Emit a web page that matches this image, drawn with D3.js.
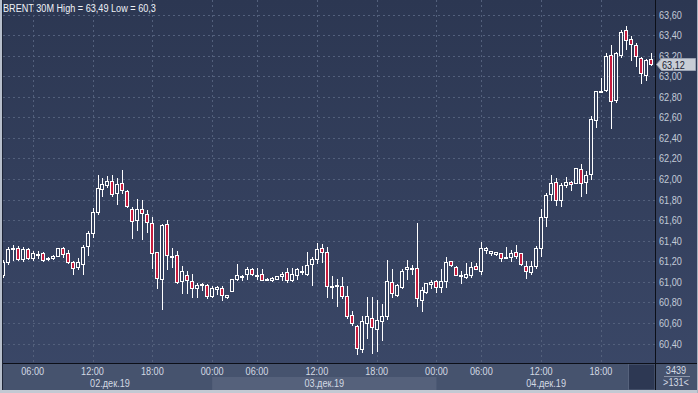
<!DOCTYPE html>
<html>
<head>
<meta charset="utf-8">
<script src="https://cdn.jsdelivr.net/npm/d3@7"></script>
<style>
  body { margin: 0; background: #3a4765; }
  svg { display: block; }
  text { font-family: "Liberation Sans", Arial, sans-serif; font-size: 11px; }
</style>
</head>
<body>
<div id="chart"></div>
<script>
/* global d3 */
const opens = [61.07, 61.19, 61.32, 61.33, 61.22, 61.32, 61.23, 61.27, 61.28, 61.22,
  61.23, 61.25, 61.33, 61.28, 61.19, 61.14, 61.17, 61.35, 61.47, 61.68,
  61.90, 61.94, 61.98, 61.86, 61.96, 61.88, 61.71, 61.60, 61.71, 61.66,
  61.57, 61.29, 61.03, 61.56, 61.24, 61.26, 61.01, 61.07, 61.01, 60.94,
  60.98, 60.97, 60.86, 60.93, 60.94, 60.85, 60.91, 61.03, 61.06, 61.08,
  61.12, 61.07, 61.08, 61.03, 61.02, 61.03, 61.06, 61.10, 61.02, 61.07,
  61.10, 61.08, 61.17, 61.22, 61.33, 61.29, 60.96, 60.96, 60.96, 60.86,
  60.68, 60.57, 60.35, 60.60, 60.65, 60.54, 60.62, 60.67, 61.00, 60.87,
  60.95, 61.12, 61.13, 61.13, 60.82, 60.90, 60.98, 61.01, 60.95, 61.01,
  61.20, 61.14, 61.07, 61.05, 61.07, 61.15, 61.11, 61.31, 61.28, 61.27,
  61.28, 61.24, 61.24, 61.29, 61.28, 61.15, 61.10, 61.15, 61.33, 61.63,
  61.85, 61.97, 61.80, 61.94, 61.97, 61.96, 62.10, 61.97, 62.05, 62.57,
  62.86, 62.87, 63.21, 62.77, 63.21, 63.45, 63.36, 63.30, 63.18, 63.01,
  63.17];
const highs = [61.21, 61.34, 61.36, 61.35, 61.34, 61.33, 61.30, 61.30, 61.29, 61.24,
  61.26, 61.33, 61.34, 61.31, 61.20, 61.23, 61.36, 61.49, 61.72, 62.04,
  62.01, 62.03, 62.04, 62.01, 62.09, 61.89, 61.73, 61.81, 61.80, 61.70,
  61.63, 61.29, 61.56, 61.60, 61.33, 61.30, 61.15, 61.11, 61.08, 60.99,
  60.99, 60.98, 60.96, 60.96, 60.96, 60.87, 61.03, 61.17, 61.07, 61.14,
  61.13, 61.13, 61.12, 61.04, 61.05, 61.06, 61.10, 61.13, 61.13, 61.13,
  61.15, 61.29, 61.24, 61.38, 61.37, 61.34, 61.06, 61.03, 61.05, 60.96,
  60.72, 60.58, 60.67, 60.85, 60.85, 60.82, 60.78, 61.21, 61.12, 60.98,
  61.12, 61.21, 61.16, 61.57, 60.95, 60.99, 61.02, 61.02, 61.12, 61.24,
  61.20, 61.15, 61.11, 61.18, 61.19, 61.18, 61.39, 61.34, 61.30, 61.29,
  61.28, 61.34, 61.31, 61.36, 61.28, 61.20, 61.20, 61.35, 61.71, 61.86,
  62.04, 62.01, 61.96, 62.02, 61.98, 62.11, 62.15, 62.08, 62.61, 62.86,
  62.98, 63.23, 63.30, 63.24, 63.45, 63.49, 63.39, 63.32, 63.19, 63.17,
  63.23];
const lows = [61.05, 61.17, 61.21, 61.21, 61.20, 61.22, 61.21, 61.23, 61.20, 61.21,
  61.22, 61.25, 61.24, 61.18, 61.08, 61.12, 61.08, 61.26, 61.44, 61.66,
  61.83, 61.92, 61.83, 61.76, 61.86, 61.73, 61.43, 61.50, 61.42, 61.48,
  61.13, 60.94, 60.74, 61.12, 61.14, 60.99, 60.89, 60.89, 60.85, 60.85,
  60.92, 60.84, 60.85, 60.88, 60.82, 60.84, 60.91, 61.02, 61.02, 61.03,
  61.07, 61.03, 61.02, 61.03, 61.01, 61.03, 61.02, 61.00, 61.01, 61.03,
  61.08, 61.07, 60.97, 61.18, 61.19, 60.85, 60.84, 60.76, 60.84, 60.65,
  60.58, 60.30, 60.32, 60.45, 60.31, 60.33, 60.43, 60.64, 60.85, 60.86,
  60.94, 61.03, 61.08, 60.76, 60.72, 60.89, 60.94, 60.90, 60.90, 60.95,
  61.15, 61.07, 60.99, 61.04, 61.05, 61.12, 61.08, 61.28, 61.26, 61.26,
  61.20, 61.23, 61.20, 61.23, 61.16, 61.04, 61.08, 61.13, 61.25, 61.54,
  61.80, 61.75, 61.74, 61.92, 61.89, 61.96, 61.83, 61.86, 62.00, 62.51,
  62.85, 62.86, 62.50, 62.75, 63.19, 63.26, 63.16, 63.10, 62.93, 62.96,
  63.11];
const closes = [61.19, 61.32, 61.33, 61.22, 61.32, 61.23, 61.28, 61.27, 61.21, 61.23,
  61.25, 61.33, 61.27, 61.19, 61.13, 61.19, 61.34, 61.47, 61.68, 61.91,
  61.95, 61.98, 61.85, 61.95, 61.89, 61.74, 61.59, 61.71, 61.67, 61.58,
  61.28, 61.04, 61.55, 61.26, 61.25, 61.00, 61.11, 61.02, 60.94, 60.97,
  60.98, 60.86, 60.94, 60.95, 60.87, 60.87, 61.03, 61.07, 61.06, 61.12,
  61.08, 61.07, 61.02, 61.03, 61.04, 61.06, 61.08, 61.02, 61.08, 61.12,
  61.11, 61.16, 61.22, 61.32, 61.29, 60.96, 60.96, 60.97, 60.86, 60.67,
  60.60, 60.36, 60.62, 60.67, 60.56, 60.63, 60.67, 61.01, 60.89, 60.97,
  61.11, 61.14, 61.13, 60.84, 60.92, 60.99, 61.00, 60.95, 61.01, 61.19,
  61.16, 61.07, 61.07, 61.08, 61.14, 61.12, 61.33, 61.33, 61.30, 61.29,
  61.23, 61.24, 61.28, 61.25, 61.17, 61.11, 61.15, 61.33, 61.63, 61.84,
  61.96, 61.80, 61.94, 61.97, 61.95, 62.11, 61.96, 62.04, 62.58, 62.86,
  62.86, 63.20, 62.76, 63.23, 63.43, 63.35, 63.31, 63.20, 63.03, 63.16,
  63.12];

const priceTicks = [60.4, 60.6, 60.8, 61.0, 61.2, 61.4, 61.6, 61.8, 62.0, 62.2,
  62.4, 62.6, 62.8, 63.0, 63.2, 63.4, 63.6];
const timeTickBars = [6, 18, 30, 42, 51, 63, 75, 87, 96, 108, 120];
const timeTickLabels = ['06:00', '12:00', '18:00', '00:00', '06:00', '12:00',
  '18:00', '00:00', '06:00', '12:00', '18:00'];
const dayStartBars = [1, 42, 87];
const dayLabels = ['02.дек.19', '03.дек.19', '04.дек.19'];
const title = 'BRENT 30M High = 63,49 Low = 60,3';
const totalBars = '3439';
const visibleBars = '>131<';

(function() {
  let width = 698;
  let height = 393;
  let plotRight = 655;
  let plotBottom = 363;
  let narrow = 0.83; // the terminal font is a narrow sans
  let fmt = v => d3.format('.2f')(v).replace('.', ',');
  let candles = opens.map((o, i) => ({ i, o, h: highs[i], l: lows[i], c: closes[i] }));

  let x = d3.scaleLinear().domain([0, 130]).range([2.8, 650.8]);
  let y = d3.scaleLinear().domain([60.4, 63.6]).range([343.5, 14.5]);
  let px = i => Math.round(x(i));
  let at = (tx, ty) => `translate(${tx},${ty}) scale(${narrow},1)`;

  let svg = d3.select('#chart')
    .append('svg:svg')
    .attr('width', width)
    .attr('height', height);

  let defs = svg.append('defs');
  let grad = defs.append('linearGradient')
    .attr('id', 'bg')
    .attr('x1', 0).attr('y1', 0).attr('x2', 0).attr('y2', 1);
  grad.append('stop').attr('offset', '0%').attr('stop-color', '#2c3752');
  grad.append('stop').attr('offset', '100%').attr('stop-color', '#3b4868');
  defs.append('clipPath').attr('id', 'plotClip')
    .append('rect')
    .attr('x', 3).attr('y', 0)
    .attr('width', plotRight - 3).attr('height', plotBottom);

  // background
  svg.append('rect')
    .attr('width', width).attr('height', height)
    .attr('fill', 'url(#bg)');

  // bottom strip
  svg.append('rect')
    .attr('x', 3).attr('y', plotBottom + 1)
    .attr('width', width - 3).attr('height', 26)
    .attr('fill', '#46536e');
  svg.append('rect')
    .attr('x', x(dayStartBars[1])).attr('y', 377)
    .attr('width', x(dayStartBars[2]) - x(dayStartBars[1])).attr('height', 13)
    .attr('fill', '#55617b');
  svg.append('rect')
    .attr('x', 628.5).attr('y', plotBottom + 1)
    .attr('width', plotRight - 628.5).attr('height', 26)
    .attr('fill', '#2d3853')
    .attr('stroke', '#56627c')
    .attr('stroke-width', 1);

  let grid = svg.append('g')
    .attr('clip-path', 'url(#plotClip)')
    .attr('stroke', '#53607c')
    .attr('stroke-dasharray', '2,3')
    .attr('shape-rendering', 'crispEdges');
  grid.selectAll('.hgrid')
    .data(priceTicks)
    .enter().append('line')
    .attr('class', 'hgrid')
    .attr('x1', 3).attr('x2', plotRight)
    .attr('y1', d => Math.round(y(d)) + 0.5)
    .attr('y2', d => Math.round(y(d)) + 0.5);
  grid.selectAll('.vgrid')
    .data(timeTickBars)
    .enter().append('line')
    .attr('class', 'vgrid')
    .attr('x1', d => px(d) + 0.5).attr('x2', d => px(d) + 0.5)
    .attr('y1', 0).attr('y2', plotBottom);

  // candles
  let cg = svg.append('g')
    .attr('clip-path', 'url(#plotClip)')
    .attr('shape-rendering', 'crispEdges');
  cg.selectAll('.wick')
    .data(candles)
    .enter().append('line')
    .attr('class', 'wick')
    .attr('x1', d => px(d.i) + 0.5).attr('x2', d => px(d.i) + 0.5)
    .attr('y1', d => Math.round(y(d.h)))
    .attr('y2', d => Math.round(y(d.l)) + 1)
    .attr('stroke', '#ffffff');
  cg.selectAll('.body')
    .data(candles)
    .enter().append('rect')
    .attr('class', 'body')
    .attr('x', d => px(d.i) - 1.5)
    .attr('width', 3)
    .attr('y', d => Math.round(y(Math.max(d.o, d.c))) + 0.5)
    .attr('height', d => Math.max(1, Math.round(y(Math.min(d.o, d.c))) - Math.round(y(Math.max(d.o, d.c)))))
    .attr('fill', d => d.c < d.o ? '#c51c3e' : '#34405d')
    .attr('stroke', '#ffffff')
    .attr('stroke-width', 1);

  // frame lines
  svg.append('line')
    .attr('x1', 2).attr('x2', width).attr('y1', plotBottom + 0.5).attr('y2', plotBottom + 0.5)
    .attr('stroke', '#0c0f18');
  svg.append('line')
    .attr('x1', plotRight + 0.5).attr('x2', plotRight + 0.5).attr('y1', 0).attr('y2', 390)
    .attr('stroke', '#0c0f18');
  svg.append('rect').attr('x', 0).attr('y', 0).attr('width', 2).attr('height', height).attr('fill', '#b7bfcc');
  svg.append('rect').attr('x', 2).attr('y', 0).attr('width', 1).attr('height', 390).attr('fill', '#1d2436');
  svg.append('rect').attr('x', 0).attr('y', 390).attr('width', width).attr('height', 3).attr('fill', '#c3c9d3');
  svg.append('rect').attr('x', 697).attr('y', 0).attr('width', 1).attr('height', height).attr('fill', '#aab2c0');

  // price axis
  svg.selectAll('.ylab')
    .data(priceTicks)
    .enter().append('text')
    .attr('class', 'ylab')
    .attr('transform', d => at(659, y(d) + 4))
    .attr('fill', '#c3cbd8')
    .text(fmt);

  // last price marker
  let last = candles[candles.length - 1];
  let ly = Math.round(y(last.c)) + 0.5;
  svg.append('path')
    .attr('d', `M656.5,${ly} L661.5,${ly - 6} L695.5,${ly - 6} L695.5,${ly + 6} L661.5,${ly + 6} Z`)
    .attr('fill', '#c8cdd6')
    .attr('stroke', '#9aa2b2');
  svg.append('text')
    .attr('transform', at(662, ly + 4))
    .attr('fill', '#1b2132')
    .text(fmt(last.c));

  // time axis
  svg.selectAll('.xlab')
    .data(timeTickBars)
    .enter().append('text')
    .attr('class', 'xlab')
    .attr('transform', d => at(x(d), 375))
    .attr('text-anchor', 'middle')
    .attr('fill', '#d3d9e3')
    .text((d, i) => timeTickLabels[i]);
  svg.selectAll('.dlab')
    .data(dayStartBars)
    .enter().append('text')
    .attr('class', 'dlab')
    .attr('transform', (d, i) => at(x((d + (dayStartBars[i + 1] || 131)) / 2), 387))
    .attr('text-anchor', 'middle')
    .attr('fill', '#d3d9e3')
    .text((d, i) => dayLabels[i]);

  // corner info
  svg.append('text').attr('transform', at(676, 374)).attr('text-anchor', 'middle')
    .attr('fill', '#d3d9e3').text(totalBars);
  svg.append('line').attr('x1', 664).attr('x2', 690).attr('y1', 376.5).attr('y2', 376.5)
    .attr('stroke', '#8c95a8');
  svg.append('text').attr('transform', at(676, 386)).attr('text-anchor', 'middle')
    .attr('fill', '#d3d9e3').text(visibleBars);

  // title
  svg.append('text')
    .attr('transform', at(3, 11.5))
    .attr('fill', '#eef1f6')
    .text(title);
})();
</script>
</body>
</html>
